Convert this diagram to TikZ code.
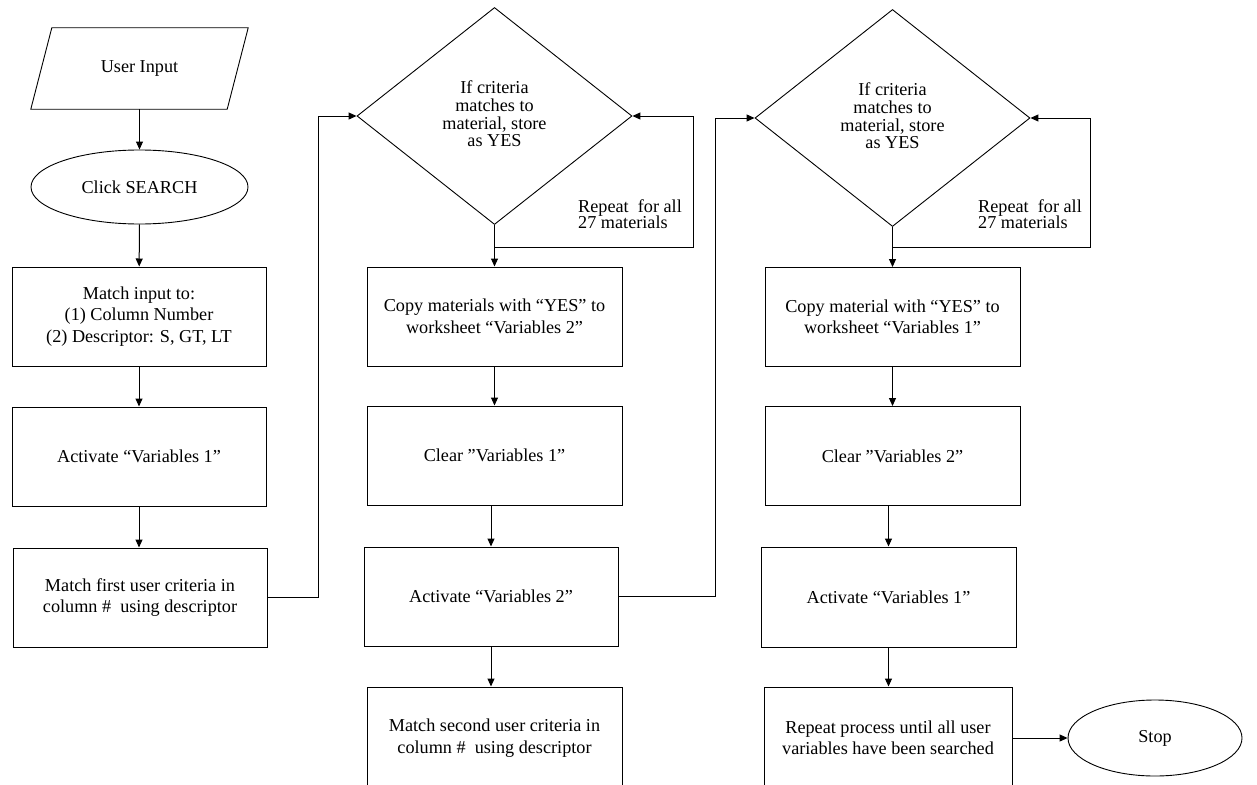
\documentclass[tikz,border=0pt]{standalone}
\usepackage{fontspec}
\setmainfont{Liberation Serif}
\usetikzlibrary{shapes.geometric,arrows.meta}
\newcommand{\dtext}{\raisebox{4pt}{\begin{tabular}{@{}c@{}}If criteria\\matches to\\material, store\\as YES\end{tabular}}}
\begin{document}
\begin{tikzpicture}[x=1pt,y=-1pt,
  every node/.style={font=\fontsize{18.2}{21.5}\selectfont, inner sep=0pt, align=center},
  box/.style={draw, rectangle, line width=1pt, minimum height=99pt},
  decision/.style={draw, diamond, aspect=1.27, line width=0.9pt, minimum width=275pt, minimum height=217pt, font=\fontsize{18.2}{16.6}\selectfont},
  term/.style={draw, ellipse, line width=0.9pt},
  note/.style={align=left, font=\fontsize{18.2}{16.6}\selectfont},
  arr/.style={line width=1pt, -{Triangle[length=8pt,width=7pt]}},
  outline/.style={line width=0.9pt}]
\useasboundingbox (0,0) rectangle (1257,784);
\clip (0,0) rectangle (1257,784);

% column 1
\node[minimum width=217pt, minimum height=81pt] (in) at (139.5,68.5) {User Input};
\draw[outline] ([xshift=21pt]in.north west) -- (in.north east)
  -- ([xshift=-21pt]in.south east) -- (in.south west) -- cycle;
\node[term, minimum width=217pt, minimum height=74pt] (search) at (139.5,187) {Click SEARCH};
\node[box, minimum width=254pt] (r1) at (139,316.5) {Match input to:\\(1) Column Number\\(2) Descriptor: S, GT, LT};
\node[box, minimum width=254pt] (r2) at (139,456.5) {Activate “Variables 1”};
\node[box, minimum width=254pt] (r3) at (140,597.5) {Match first user criteria in\\column \#~~using descriptor};

% column 2
\node[decision] (d1) at (494.5,116) {\dtext};
\node[note] (rep1) at (630,214) {Repeat~ for all\\27 materials};
\node[box, minimum width=255pt] (r4) at (494.5,316.5) {Copy materials with “YES” to\\worksheet “Variables 2”};
\node[box, minimum width=255pt] (r5) at (494.5,455.5) {Clear ”Variables 1”};
\node[box, minimum width=254pt] (r6) at (491,596.5) {Activate “Variables 2”};
\node[box, minimum width=255pt, minimum height=102pt] (r7) at (494.5,738) {Match second user criteria in\\column \#~~using descriptor};

% column 3
\node[decision] (d2) at (892.5,118) {\dtext};
\node[note] (rep2) at (1030,214) {Repeat~ for all\\27 materials};
\node[box, minimum width=255pt] (r8) at (892.5,317) {Copy material with “YES” to\\worksheet “Variables 1”};
\node[box, minimum width=255pt] (r9) at (892.5,456) {Clear ”Variables 2”};
\node[box, minimum width=255pt, minimum height=100pt] (r10) at (888.5,597) {Activate “Variables 1”};
\node[box, minimum width=248pt, minimum height=102pt] (r11) at (888,738) {Repeat process until all user\\variables have been searched};
\node[term, minimum width=174pt, minimum height=76pt] (stop) at (1155,738) {Stop};

\coordinate (j1) at (494.5,247);
\coordinate (j2) at (892.5,247);

% connectors
\draw[arr] (in) -- (search);
\draw[arr] (search) -- (r1);
\draw[arr] (r1) -- (r2);
\draw[arr] (r2.south) -- (r2.south |- r3.north);
\draw[arr] (r3.east) -- ++(51,0) |- (d1.west);
\draw[arr] (d1.south) -- (r4.north);
\draw[arr] (j1) -- (693,247) |- (d1.east);
\draw[arr] (r4) -- (r5);
\draw[arr] (r6.north |- r5.south) -- (r6.north);
\draw[arr] (r6.south) -- (r6.south |- r7.north);
\draw[arr] (r6.east) -- (715,596.5) |- (d2.west);
\draw[arr] (d2.south) -- (r8.north);
\draw[arr] (j2) -- (1090,247) |- (d2.east);
\draw[arr] (r8) -- (r9);
\draw[arr] (r10.north |- r9.south) -- (r10.north);
\draw[arr] (r10.south) -- (r10.south |- r11.north);
\draw[arr] (r11) -- (stop);
\end{tikzpicture}
\end{document}
